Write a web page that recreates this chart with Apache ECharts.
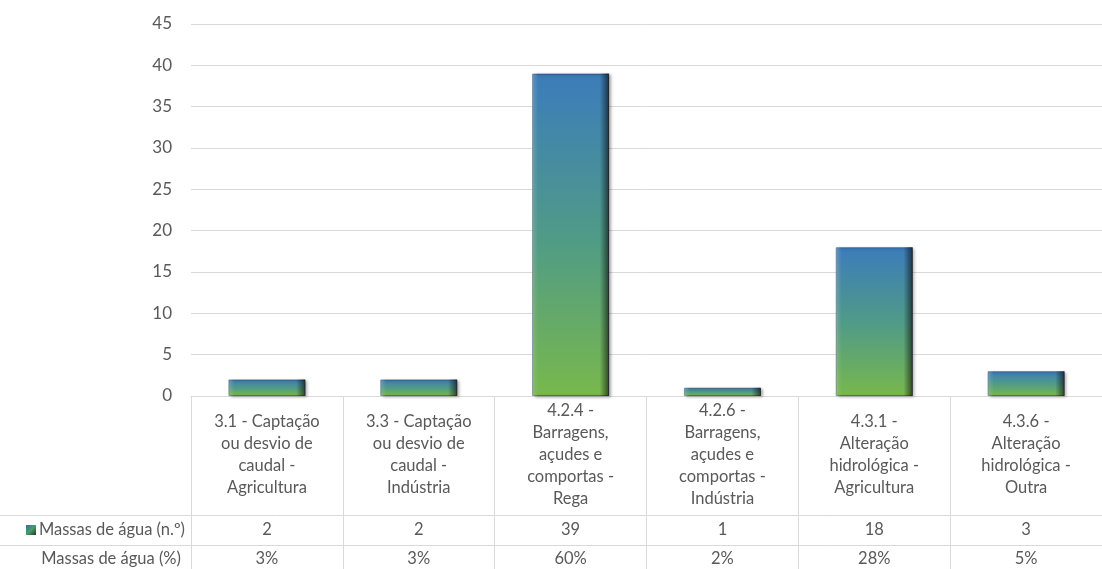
<!DOCTYPE html>
<html>
<head>
<meta charset="utf-8">
<title>Massas de água por pressão</title>
<script src="https://cdn.jsdelivr.net/npm/echarts@6/dist/echarts.min.js"></script>
<style>
	html, body { margin: 0; padding: 0; background: #fff; }
	#chartArea { width: 1102px; height: 569px; }
</style>
</head>
<body>
<div id="chartArea"></div>
<script>
	// categorias (quebras de linha como no quadro original)
	const categorias = [
		'3.1 - Captação\nou desvio de\ncaudal -\nAgricultura',
		'3.3 - Captação\nou desvio de\ncaudal -\nIndústria',
		'4.2.4 -\nBarragens,\naçudes e\ncomportas -\nRega',
		'4.2.6 -\nBarragens,\naçudes e\ncomportas -\nIndústria',
		'4.3.1 -\nAlteração\nhidrológica -\nAgricultura',
		'4.3.6 -\nAlteração\nhidrológica -\nOutra'
	];
	const massasNum = [2, 2, 39, 1, 18, 3];
	const massasPct = [3, 3, 60, 2, 28, 5];
	const yTicks = [0, 5, 10, 15, 20, 25, 30, 35, 40, 45];

	const txtColor = '#595959';
	const lineColor = '#d9d9d9';
	const fontFam = 'Lato, "Open Sans", sans-serif';
	const tblFont = 16.5;

	const chart = echarts.init(document.getElementById('chartArea'), null, {renderer: 'canvas'});

	// gradiente azul -> verde de cada barra
	const barFill = new echarts.graphic.LinearGradient(0, 0, 0, 1, [
		{offset: 0, color: '#3c7cbb'},
		{offset: 0.5, color: '#4f9a88'},
		{offset: 1, color: '#78b84c'}
	]);
	// chanfro: lado esquerdo claro, lado direito escuro
	const bevel = new echarts.graphic.LinearGradient(0, 0, 1, 0, [
		{offset: 0, color: 'rgba(255,255,255,0.25)'},
		{offset: 0.08, color: 'rgba(255,255,255,0)'},
		{offset: 0.88, color: 'rgba(0,0,0,0)'},
		{offset: 1, color: 'rgba(0,0,0,0.6)'}
	]);

	const option = {
		backgroundColor: '#fff',
		animation: false,
		textStyle: {fontFamily: fontFam},
		grid: {left: 191, top: 24, width: 920, bottom: 173, containLabel: false},
		xAxis: [{
			type: 'category',
			data: categorias,
			axisLine: {lineStyle: {color: lineColor, width: 1}},
			axisTick: {show: true, length: 173, lineStyle: {color: lineColor}},
			axisLabel: {
				interval: 0,
				color: txtColor,
				fontSize: tblFont,
				lineHeight: 22,
				fontFamily: fontFam,
				verticalAlign: 'middle',
				margin: 59
			}
		}, {
			type: 'category',
			position: 'bottom',
			offset: 119,
			data: massasNum.map(v => String(v)),
			axisLine: {show: false},
			axisTick: {show: false},
			axisLabel: {interval: 0, color: txtColor, fontSize: tblFont, fontFamily: fontFam, verticalAlign: 'middle', margin: 15}
		}, {
			type: 'category',
			position: 'bottom',
			offset: 149,
			data: massasPct.map(v => v + '%'),
			axisLine: {show: false},
			axisTick: {show: false},
			axisLabel: {interval: 0, color: txtColor, fontSize: tblFont, fontFamily: fontFam, verticalAlign: 'middle', margin: 14}
		}],
		yAxis: {
			type: 'value',
			min: yTicks[0],
			max: yTicks[yTicks.length - 1],
			interval: 5,
			axisLine: {show: false},
			axisTick: {show: false},
			splitLine: {lineStyle: {color: lineColor, width: 1}},
			axisLabel: {color: txtColor, fontSize: 17, fontFamily: fontFam, margin: 19}
		},
		series: [{
			name: 'Massas de água (n.º)',
			type: 'bar',
			data: massasNum,
			barWidth: 77,
			itemStyle: {
				color: barFill,
				borderColor: 'rgba(25,55,80,0.55)',
				borderWidth: 1,
				shadowColor: 'rgba(0,0,0,0.35)',
				shadowBlur: 3,
				shadowOffsetX: 2,
				shadowOffsetY: 1
			}
		}, {
			name: 'chanfro',
			type: 'bar',
			data: massasNum,
			barWidth: 77,
			barGap: '-100%',
			silent: true,
			itemStyle: {color: bevel}
		}],
		graphic: [
			{type: 'line', shape: {x1: 0, y1: 515.5, x2: 1102, y2: 515.5}, style: {stroke: lineColor, lineWidth: 1}, silent: true},
			{type: 'line', shape: {x1: 0, y1: 545.5, x2: 1102, y2: 545.5}, style: {stroke: lineColor, lineWidth: 1}, silent: true},
			{type: 'rect', shape: {x: 26, y: 525, width: 10, height: 10},
				style: {fill: new echarts.graphic.LinearGradient(0, 0, 1, 1, [{offset: 0, color: '#2e6f9e'}, {offset: 0.5, color: '#4f9a6a'}, {offset: 1, color: '#1d3c2a'}])}},
			{type: 'text', x: 185, y: 530, style: {text: 'Massas de água (n.º)', fill: txtColor, font: tblFont + 'px ' + fontFam, align: 'right', verticalAlign: 'middle'}},
			{type: 'text', x: 181, y: 559, style: {text: 'Massas de água (%)', fill: txtColor, font: tblFont + 'px ' + fontFam, align: 'right', verticalAlign: 'middle'}}
		]
	};

	chart.setOption(option);
</script>
</body>
</html>
